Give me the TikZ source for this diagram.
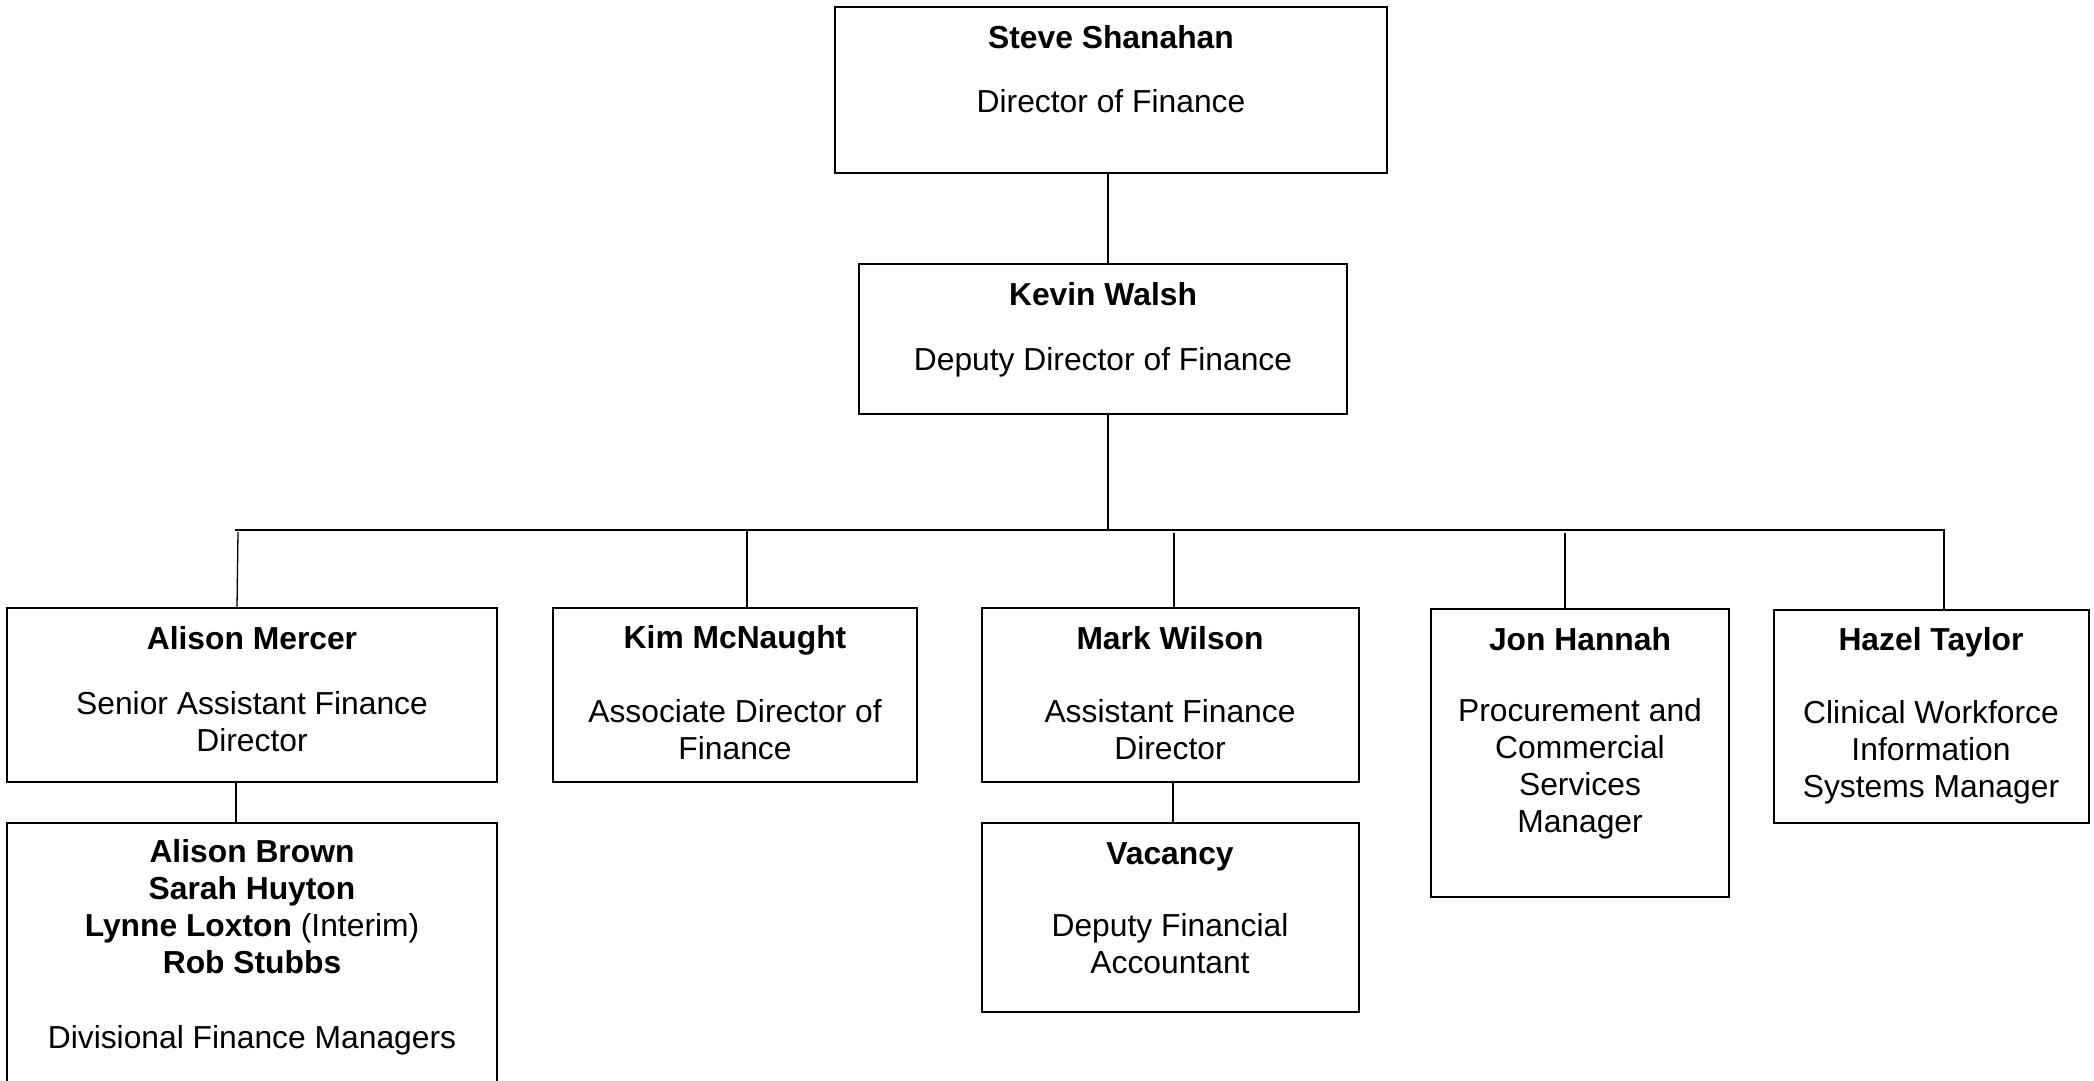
\documentclass[tikz,border=0pt]{standalone}
\usepackage{fontspec}
\setmainfont{Liberation Sans}
\begin{document}
\begin{tikzpicture}[x=1pt,y=-1pt,
  box/.style={draw=black,line width=1.6pt,inner sep=0pt,outer sep=0pt,rectangle},
  conn/.style={draw=black,line width=1.3pt},
  txt/.style={anchor=base,inner sep=0pt,font=\fontsize{31.8}{36.6}\selectfont},
  bold/.style={txt,font=\fontsize{31.8}{36.6}\selectfont\bfseries}]
\useasboundingbox[fill=white] (0,0) rectangle (2094,1080);

% boxes
\node[box,minimum width=552pt,minimum height=166pt] (steve) at (1111,90) {};
\node[box,minimum width=488pt,minimum height=150pt] (kevin) at (1103,339) {};
\node[box,minimum width=490pt,minimum height=174pt] (mercer) at (252,695) {};
\node[box,minimum width=364pt,minimum height=174pt] (kim) at (735,695) {};
\node[box,minimum width=377pt,minimum height=174pt] (mark) at (1170.5,695) {};
\node[box,minimum width=298pt,minimum height=288pt] (jon) at (1580,753) {};
\node[box,minimum width=315pt,minimum height=213pt] (hazel) at (1931.5,716.5) {};
\node[box,minimum width=490pt,minimum height=277pt] (brown) at (252,961.5) {};
\node[box,minimum width=377pt,minimum height=189pt] (vac) at (1170.5,917.5) {};

% texts
\node[bold] (t1) at (1111,48) {Steve Shanahan};
\node[txt] (t2) at (1111,112) {Director of Finance};
\node[bold] (t3) at (1103,305) {Kevin Walsh};
\node[txt] (t4) at (1103,370) {Deputy Director of Finance};
\node[bold] (t5) at (252,649) {Alison Mercer};
\node[txt] (t6) at (252,714) {Senior Assistant Finance};
\node[txt] (t7) at (252,751) {Director};
\node[bold] (t8) at (735,648) {Kim McNaught};
\node[txt] (t9) at (735,722) {Associate Director of};
\node[txt] (t10) at (735,759) {Finance};
\node[bold] (t11) at (1170,649) {Mark Wilson};
\node[txt] (t12) at (1170,722) {Assistant Finance};
\node[txt] (t13) at (1170,759) {Director};
\node[bold] (t14) at (1580,650) {Jon Hannah};
\node[txt] (t15) at (1580,721) {Procurement and};
\node[txt] (t16) at (1580,758) {Commercial};
\node[txt] (t17) at (1580,795) {Services};
\node[txt] (t18) at (1580,832) {Manager};
\node[bold] (t19) at (1931,650) {Hazel Taylor};
\node[txt] (t20) at (1931,723) {Clinical Workforce};
\node[txt] (t21) at (1931,760) {Information};
\node[txt] (t22) at (1931,797) {Systems Manager};
\node[bold] (t23) at (252,862) {Alison Brown};
\node[bold] (t24) at (252,899) {Sarah Huyton};
\node[txt] (t25) at (252,936) {\textbf{Lynne Loxton} (Interim)};
\node[bold] (t26) at (252,973) {Rob Stubbs};
\node[txt] (t27) at (252,1048) {Divisional Finance Managers};
\node[bold] (t28) at (1170,864) {Vacancy};
\node[txt] (t29) at (1170,936) {Deputy Financial};
\node[txt] (t30) at (1170,973) {Accountant};

% connectors
\coordinate (trunk) at (1108,0);
\coordinate (busL) at (235,530);
\coordinate (busR) at (1944,530);
\draw[conn] (steve.south -| trunk) -- (kevin.north -| trunk);
\draw[conn] (kevin.south -| trunk) -- (trunk |- busL);
\draw[conn] (busL) -- (busR) -- (hazel.north -| busR);
\draw[conn] ([xshift=-14pt,yshift=76pt]mercer.north) -- ([xshift=-15pt]mercer.north);
\draw[conn] ([xshift=12pt]kim.north |- busL) -- ([xshift=12pt]kim.north);
\draw[conn] ([xshift=3.5pt,yshift=75pt]mark.north) -- ([xshift=3.5pt]mark.north);
\draw[conn] ([xshift=-15pt,yshift=76pt]jon.north) -- ([xshift=-15pt]jon.north);
\draw[conn] ([xshift=-16pt]mercer.south) -- ([xshift=-16pt]brown.north);
\draw[conn] ([xshift=2.5pt]mark.south) -- ([xshift=2.5pt]vac.north);
\end{tikzpicture}
\end{document}
